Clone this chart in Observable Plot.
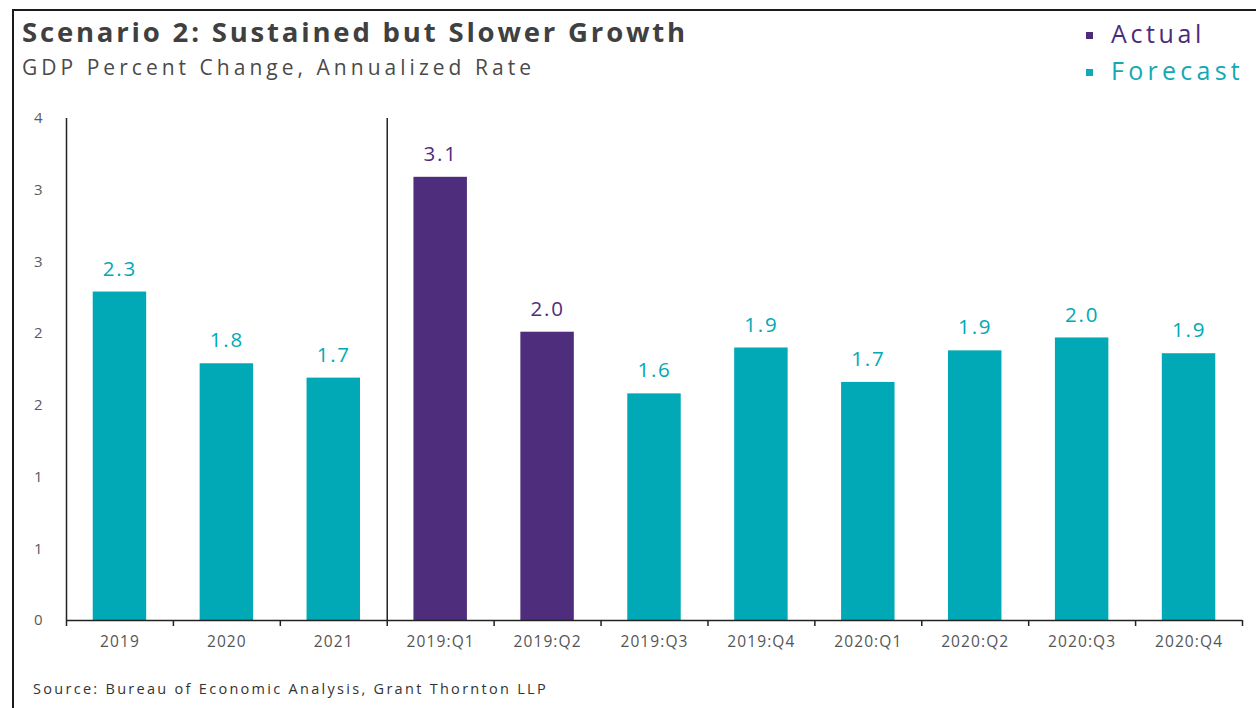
<!DOCTYPE html>
<html>
<head>
<meta charset="utf-8">
<script src="https://cdn.jsdelivr.net/npm/d3@7"></script>
<script src="https://cdn.jsdelivr.net/npm/@observablehq/plot@0.6"></script>
<style>
  html, body { margin: 0; padding: 0; background: #fff; overflow: hidden; }
  body { width: 1256px; height: 708px; position: relative; font-family: "Open Sans", Lato, sans-serif; }
  #frame { position: absolute; left: 12px; top: 9px; width: 1400px; height: 900px;
           border-left: 2px solid #1b1b1b; border-top: 2px solid #1b1b1b; pointer-events: none; }
  #header { position: relative; height: 100px; }
  #title { position: absolute; left: 22px; top: 13px; font-size: 27.5px; font-weight: 700; color: #404040; white-space: nowrap; }
  #subtitle { position: absolute; left: 22px; top: 53px; font-size: 21px; color: #4a4a4a; white-space: nowrap; }
  .leg { position: absolute; left: 1086px; font-size: 25px; white-space: nowrap; }
  .leg .sw { display: inline-block; width: 7px; height: 7px; margin-right: 18px; vertical-align: middle; position: relative; top: -1px; }
  .leg .lab { display: inline-block; }
  #caption { position: relative; height: 48px; }
  #caption span { position: absolute; left: 33px; top: 19px; font-size: 14.5px; color: #333; white-space: nowrap; }
  #chart svg { display: block; }
</style>
</head>
<body>
<div id="frame"></div>
<div id="header">
  <div id="title">Scenario 2: Sustained but Slower Growth</div>
  <div id="subtitle">GDP Percent Change, Annualized Rate</div>
  <div class="leg" id="legA" style="top:16px;color:#4B2C7A"><span class="sw" style="background:#4B2C7A"></span><span class="lab">Actual</span></div>
  <div class="leg" id="legF" style="top:53px;color:#13A9B4"><span class="sw" style="background:#13A9B4"></span><span class="lab">Forecast</span></div>
</div>
<div id="chart"></div>
<div id="caption"><span id="src">Source: Bureau of Economic Analysis, Grant Thornton LLP</span></div>
<script>
// ---- data ----
const categories = ["2019", "2020", "2021", "2019:Q1", "2019:Q2", "2019:Q3", "2019:Q4", "2020:Q1", "2020:Q2", "2020:Q3", "2020:Q4"];
const values     = [2.29, 1.79, 1.69, 3.09, 2.01, 1.58, 1.90, 1.66, 1.88, 1.97, 1.86];
const series     = ["Forecast", "Forecast", "Forecast", "Actual", "Actual", "Forecast", "Forecast", "Forecast", "Forecast", "Forecast", "Forecast"];
const yTicks     = [0, 0.5, 1, 1.5, 2, 2.5, 3, 3.5];
const groupSplit = 3; // annual | quarterly divider

const data = categories.map((c, i) => ({i, cat: c, value: values[i], type: series[i]}));
const bounds = d3.range(categories.length + 1);

const plot = Plot.plot({
  width: 1256,
  height: 560,
  marginTop: 18,
  marginBottom: 40,
  marginLeft: 66,
  marginRight: 14,
  style: {fontFamily: "'Open Sans', Lato, sans-serif", background: "transparent"},
  x: {domain: [0, categories.length], axis: null},
  y: {domain: [0, 3.5], axis: null},
  color: {domain: ["Actual", "Forecast"], range: ["#4E2D7D", "#00A9B5"]},
  marks: [
    Plot.rectY(data, {x1: d => d.i + 0.25, x2: d => d.i + 0.75, y: "value", fill: "type"}),
    Plot.text(data, {x: d => d.i + 0.5, y: "value", text: d => d.value.toFixed(1), fill: "type",
                     dy: -23, fontSize: 20.5}),
    Plot.axisY({ticks: yTicks, tickFormat: d => String(Math.round(d)), tickSize: 0, tickPadding: 24,
                fontSize: 15, color: "#5a5a5a", label: null}),
    Plot.axisX({ticks: categories.map((c, i) => i + 0.5), tickFormat: d => categories[Math.floor(d)],
                tickSize: 0, tickPadding: 15, fontSize: 15.5, color: "#555", label: null}),
    Plot.axisX({ticks: bounds, tickFormat: () => "", tickSize: 6, stroke: "#222", strokeWidth: 1.5, label: null}),
    Plot.ruleY([0], {stroke: "#222", strokeWidth: 1.5}),
    Plot.ruleX([0], {stroke: "#222", strokeWidth: 1.5}),
    Plot.ruleX([groupSplit], {stroke: "#222", strokeWidth: 1.5})
  ]
});
document.getElementById("chart").appendChild(plot);

// letter spacing to approximate the reference's wide geometric face
d3.select(plot).selectAll("g[aria-label='x-axis tick label'] text").style("letter-spacing", "1.1px");
d3.select(plot).selectAll("g[aria-label='text'] text").style("letter-spacing", "1.8px");

// fit text blocks to the reference widths
function fit(el, target) {
  const n = el.textContent.length;
  const w = el.getBoundingClientRect().width;
  el.style.letterSpacing = ((target - w) / n) + "px";
}
fit(document.getElementById("title"), 666);
fit(document.getElementById("subtitle"), 513);
fit(document.getElementById("src"), 515);
fit(document.querySelector("#legA .lab"), 94);
fit(document.querySelector("#legF .lab"), 133);
</script>
</body>
</html>
